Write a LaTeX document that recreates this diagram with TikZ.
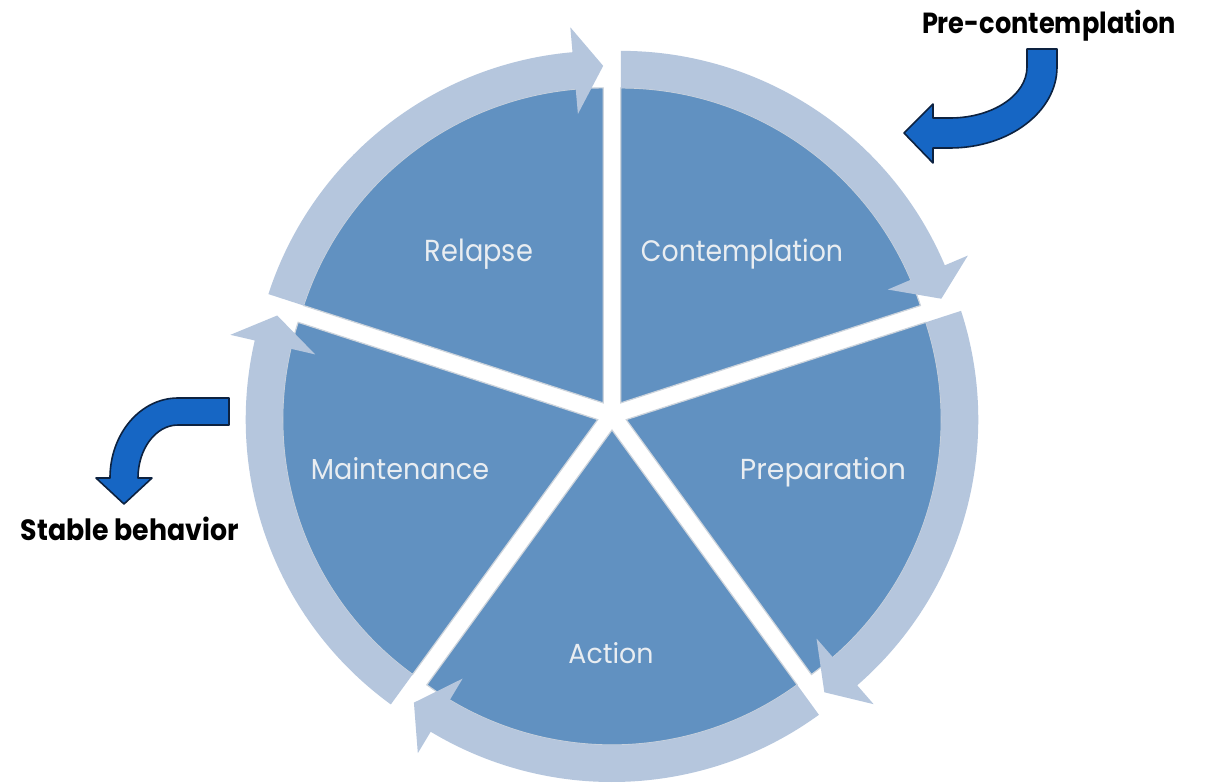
\documentclass[tikz,border=0pt]{standalone}
\usepackage{fontspec}
\setmainfont{Poppins}
\definecolor{wedgec}{HTML}{6191C1}
\definecolor{edgec}{HTML}{CDD4DC}
\definecolor{ringc}{HTML}{B5C6DD}
\definecolor{callc}{HTML}{1666C4}
\definecolor{calll}{HTML}{0D2240}
\definecolor{labelc}{HTML}{E9EDF1}
\tikzset{
  wedge/.style={fill=wedgec, draw=edgec, line width=1.2pt},
  ringpart/.style={fill=ringc},
  callout/.style={fill=callc, draw=calll, line width=1.6pt, line join=round},
  stagelabel/.style={text=labelc, inner sep=0pt, anchor=base},
  sidelabel/.style={text=black, inner sep=0pt, anchor=base, font=\bfseries}
}
\newcommand{\cycseg}[2]{%
  \pgfmathsetmacro{\bis}{(#1+#2)/2}%
  \pgfmathsetmacro{\abase}{#2+5}%
  \begin{scope}[shift={(\bis:15)}]
    \path[wedge] (0,0) -- (#1:315) arc[start angle=#1, end angle=#2, radius=315] -- cycle;
    \path[ringpart] (#1:315) -- (#1:352) arc[start angle=#1, end angle=\abase, radius=352]
      -- (\abase:377) -- (#2:337) -- (\abase:290) -- (\abase:315)
      arc[start angle=\abase, end angle=#1, radius=315] -- cycle;
  \end{scope}}
\begin{document}
\begin{tikzpicture}[x=1pt,y=1pt]
  \useasboundingbox[fill=white] (-612,-367) rectangle (594,415);
  % segments of the cycle
  \cycseg{90}{18}
  \cycseg{18}{-54}
  \cycseg{-54}{-126}
  \cycseg{234}{162}
  \cycseg{162}{90}
  % stage labels
  \node[stagelabel] (relapse) at (-133,154) {\resizebox{108pt}{22.5pt}{Relapse}};
  \node[stagelabel] (contemplation) at (130,154) {\resizebox{202pt}{22.5pt}{Contemplation}};
  \node[stagelabel] (preparation) at (211,-64) {\resizebox{166pt}{22pt}{Preparation}};
  \node[stagelabel] (maintenance) at (-212,-64) {\resizebox{178pt}{22pt}{Maintenance}};
  \node[stagelabel] (action) at (-1,-248) {\resizebox{85pt}{21pt}{Action}};
  % pre-contemplation callout
  \path[callout] (445,366) -- (445,348)
    arc[start angle=0, end angle=-90, x radius=107, y radius=81]
    -- (321,267) -- (321,252) -- (292,282) -- (321,311) -- (321,297) -- (338,297)
    arc[start angle=-90, end angle=0, x radius=77, y radius=51]
    -- (415,366) -- cycle;
  \node[sidelabel] (precon) at (437,381.7) {\resizebox{254pt}{23.3pt}{Pre-contemplation}};
  % stable behavior callout
  \path[callout] (-383,17) -- (-434,17)
    arc[start angle=90, end angle=180, x radius=68, y radius=80]
    -- (-516,-63) -- (-488,-89) -- (-460,-63) -- (-474,-63)
    arc[start angle=180, end angle=90, x radius=40, y radius=53]
    -- (-383,-10) -- cycle;
  \node[sidelabel] (stable) at (-482,-125.7) {\resizebox{218pt}{23.5pt}{Stable behavior}};
\end{tikzpicture}
\end{document}
